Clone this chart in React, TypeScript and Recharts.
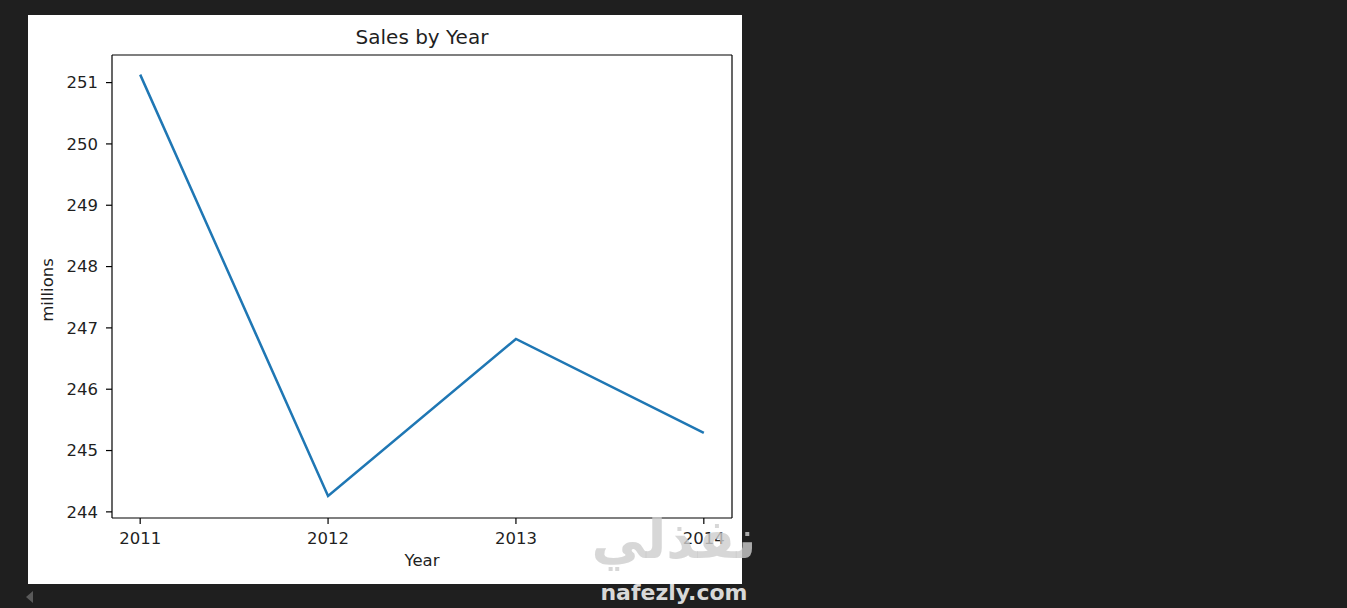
import * as React from 'react';
import { CartesianGrid, Line, LineChart, XAxis, YAxis } from 'recharts';

const years = [2011, 2012, 2013, 2014];
const sales = [251.13, 244.26, 246.82, 245.29];
const yTicks = [244, 245, 246, 247, 248, 249, 250, 251];

const FONT = '"DejaVu Sans", sans-serif';
const TEXT = '#1f1f1f';

export default function App() {
    const data = years.map((year, i) => ({ year, sales: sales[i] }));

    const tickStyle = { fontSize: 16.5, fill: TEXT, fontFamily: FONT };

    return (
        <div
            style={{
                position: 'fixed',
                left: 0,
                top: 0,
                width: 1347,
                height: 608,
                background: '#1f1f1f',
                overflow: 'hidden',
            }}
        >
            <div
                style={{
                    position: 'absolute',
                    left: 28,
                    top: 15,
                    width: 714,
                    height: 569,
                    background: '#ffffff',
                }}
            >
                <LineChart
                    width={714}
                    height={569}
                    data={data}
                    margin={{ top: 40, right: 10, left: 0, bottom: 0 }}
                >
                    {/* top and right edges of the frame */}
                    <CartesianGrid
                        stroke="#000"
                        strokeWidth={1.2}
                        horizontalCoordinatesGenerator={({ offset }: any) => [offset.top]}
                        verticalCoordinatesGenerator={({ offset }: any) => [
                            offset.left + offset.width,
                        ]}
                    />
                    <XAxis
                        dataKey="year"
                        type="number"
                        domain={[2010.85, 2014.15]}
                        ticks={years}
                        allowDataOverflow
                        height={66}
                        tickSize={6}
                        tickMargin={8}
                        tick={tickStyle}
                        axisLine={{ stroke: '#000', strokeWidth: 1.2 }}
                        tickLine={{ stroke: '#000', strokeWidth: 1.2 }}
                    />
                    <YAxis
                        type="number"
                        domain={[243.9, 251.45]}
                        ticks={yTicks}
                        allowDataOverflow
                        width={84}
                        tickSize={6}
                        tickMargin={8}
                        tick={tickStyle}
                        axisLine={{ stroke: '#000', strokeWidth: 1.2 }}
                        tickLine={{ stroke: '#000', strokeWidth: 1.2 }}
                    />
                    <Line
                        type="linear"
                        dataKey="sales"
                        stroke="#1f77b4"
                        strokeWidth={2.5}
                        dot={false}
                        activeDot={false}
                        isAnimationActive={false}
                    />
                </LineChart>

                {/* title and axis labels */}
                <div
                    style={{
                        position: 'absolute',
                        left: 84,
                        width: 620,
                        top: 8,
                        textAlign: 'center',
                        fontFamily: FONT,
                        fontSize: 20,
                        color: TEXT,
                        lineHeight: '28px',
                    }}
                >
                    Sales by Year
                </div>
                <div
                    style={{
                        position: 'absolute',
                        left: 84,
                        width: 620,
                        top: 534,
                        textAlign: 'center',
                        fontFamily: FONT,
                        fontSize: 16.5,
                        color: TEXT,
                        lineHeight: '24px',
                    }}
                >
                    Year
                </div>
                <div
                    style={{
                        position: 'absolute',
                        left: 20 - 60,
                        top: 275 - 12,
                        width: 120,
                        textAlign: 'center',
                        fontFamily: FONT,
                        fontSize: 16.5,
                        color: TEXT,
                        lineHeight: '24px',
                        transform: 'rotate(-90deg)',
                    }}
                >
                    millions
                </div>
            </div>

            {/* watermark */}
            <div
                style={{
                    position: 'absolute',
                    left: 584,
                    top: 502,
                    width: 180,
                    textAlign: 'center',
                    fontFamily: FONT,
                    fontWeight: 'bold',
                    fontSize: 54,
                    color: 'rgba(205,205,205,0.8)',
                    lineHeight: '76px',
                    direction: 'rtl',
                }}
            >
                نفذلي
            </div>
            <div
                style={{
                    position: 'absolute',
                    left: 590,
                    top: 578,
                    width: 168,
                    textAlign: 'center',
                    fontFamily: FONT,
                    fontWeight: 'bold',
                    fontSize: 22,
                    color: '#d8d8d8',
                    lineHeight: '30px',
                }}
            >
                nafezly.com
            </div>
            <div
                style={{
                    position: 'absolute',
                    left: 26,
                    top: 591,
                    width: 0,
                    height: 0,
                    borderTop: '6px solid transparent',
                    borderBottom: '6px solid transparent',
                    borderRight: '7px solid #5a5a5a',
                }}
            />
        </div>
    );
}
